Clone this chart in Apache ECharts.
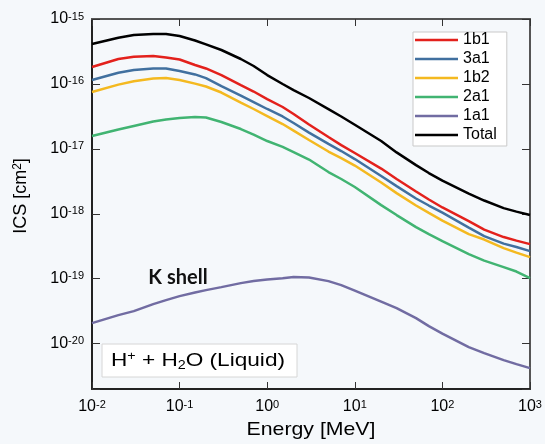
<!DOCTYPE html>
<html>
<head>
<meta charset="utf-8">
<script src="https://cdn.jsdelivr.net/npm/echarts@6/dist/echarts.min.js"></script>
<style>
  html, body { margin: 0; padding: 0; background: #f5f8fb; }
  #chart { width: 545px; height: 444px; }
</style>
</head>
<body>
<div id="chart"></div>
<script>
// Proton impact on liquid water: ionisation cross sections per molecular shell (cm^2)
const energyMeV = [0.01, 0.02, 0.03, 0.05, 0.07, 0.1, 0.15, 0.2, 0.3, 0.5, 0.7, 1, 1.5, 2, 3, 5, 7, 10,
                   20, 30, 50, 70, 100, 200, 300, 500, 700, 1000];

const ics1b1 = [1.82e-16, 2.42e-16, 2.62e-16, 2.69e-16, 2.55e-16, 2.38e-16, 1.96e-16, 1.73e-16, 1.37e-16,
                9.62e-17, 7.64e-17, 5.85e-17, 4.41e-17, 3.44e-17, 2.37e-17, 1.52e-17, 1.14e-17, 8.62e-18,
                4.97e-18, 3.43e-18, 2.20e-18, 1.66e-18, 1.25e-18, 7.72e-19, 5.71e-19, 4.38e-19, 3.86e-19, 3.41e-19];

const ics3a1 = [1.15e-16, 1.49e-16, 1.64e-16, 1.73e-16, 1.73e-16, 1.58e-16, 1.40e-16, 1.23e-16, 9.28e-17,
                6.63e-17, 5.26e-17, 4.11e-17, 3.15e-17, 2.50e-17, 1.78e-17, 1.19e-17, 9.25e-18, 6.96e-18,
                3.81e-18, 2.67e-18, 1.72e-18, 1.34e-18, 1.04e-18, 6.13e-19, 4.53e-19, 3.47e-19, 3.07e-19, 2.66e-19];

const ics1b2 = [7.50e-17, 9.75e-17, 1.10e-16, 1.21e-16, 1.23e-16, 1.15e-16, 1.01e-16, 9.12e-17, 7.37e-17,
                5.17e-17, 4.11e-17, 3.20e-17, 2.41e-17, 1.91e-17, 1.37e-17, 9.09e-18, 7.22e-18, 5.53e-18,
                3.03e-18, 2.08e-18, 1.34e-18, 1.03e-18, 7.86e-19, 4.87e-19, 4.01e-19, 2.96e-19, 2.52e-19, 2.15e-19];

const ics2a1 = [1.58e-17, 1.98e-17, 2.25e-17, 2.63e-17, 2.83e-17, 2.98e-17, 3.09e-17, 3.04e-17, 2.59e-17,
                2.02e-17, 1.66e-17, 1.32e-17, 1.07e-17, 8.93e-18, 6.84e-18, 4.39e-18, 3.43e-18, 2.58e-18,
                1.36e-18, 9.55e-19, 6.24e-19, 4.87e-19, 3.80e-19, 2.39e-19, 1.90e-19, 1.51e-19, 1.29e-19, 1.02e-19];

const ics1a1 = [2.07e-20, 2.75e-20, 3.17e-20, 4.06e-20, 4.68e-20, 5.39e-20, 6.11e-20, 6.67e-20, 7.42e-20,
                8.55e-20, 9.18e-20, 9.69e-20, 1.02e-19, 1.06e-19, 1.04e-19, 9.18e-20, 7.97e-20, 6.56e-20,
                4.44e-20, 3.52e-20, 2.47e-20, 1.86e-20, 1.43e-20, 8.83e-21, 7.14e-21, 5.57e-21, 4.83e-21, 4.20e-21];

const icsTotal = [4.12e-16, 5.15e-16, 5.67e-16, 5.87e-16, 5.87e-16, 5.47e-16, 4.67e-16, 4.07e-16, 3.33e-16,
                  2.42e-16, 1.89e-16, 1.37e-16, 9.97e-17, 8.05e-17, 6.07e-17, 4.10e-17, 3.15e-17, 2.35e-17,
                  1.32e-17, 8.81e-18, 5.62e-18, 4.24e-18, 3.25e-18, 2.05e-18, 1.60e-18, 1.22e-18, 1.08e-18, 9.55e-19];

const shellNames = ['1b1', '3a1', '1b2', '2a1', '1a1', 'Total'];
const shellColors = ['#e3211c', '#41709f', '#f4b920', '#41b472', '#716ca2', '#000000'];
const shellValues = [ics1b1, ics3a1, ics1b2, ics2a1, ics1a1, icsTotal];

const energyRange = [1e-2, 1e3];
const icsRange = [2e-21, 1e-15];

(function () {
  // The log scale loses precision near 1e-21, so the y axis runs in units of 1e-21 cm^2
  // and the labels add the exponent back.
  const Y_EXP = 21;
  const toAxis = v => v * Math.pow(10, Y_EXP);
  const yLo = toAxis(icsRange[0]), yHi = toAxis(icsRange[1]);

  const FONT = '"Liberation Sans", Arial, Helvetica, sans-serif';

  function powerLabel(shift) {
    return function (v) {
      const e = Math.log10(v);
      if (Math.abs(e - Math.round(e)) > 1e-6) return '';
      return '10{sup|' + (Math.round(e) - shift) + '}';
    };
  }

  const chart = echarts.init(document.getElementById('chart'), null, { renderer: 'canvas' });

  const supStyle = { fontSize: 11, lineHeight: 11, verticalAlign: 'top', fontFamily: FONT, color: '#000' };
  const xTick = { show: true, inside: true, length: 7, lineStyle: { color: '#333', width: 1 } };
  const yTick = { show: true, inside: true, length: 8, lineStyle: { color: '#333', width: 1 } };

  const annotations = [
    {
      type: 'text', x: 21, y: 196, rotation: Math.PI / 2,
      style: {
        text: 'ICS [cm{sup|2}]', fill: '#000', font: '18px ' + FONT,
        align: 'center', verticalAlign: 'middle',
        rich: { sup: { fontSize: 12, lineHeight: 12, verticalAlign: 'top', fontFamily: FONT, fill: '#000' } }
      }
    },
    {
      type: 'text', x: 311, y: 430, scaleX: 1.12,
      style: { text: 'Energy [MeV]', fill: '#000', font: '19px ' + FONT, align: 'center', verticalAlign: 'middle' }
    },
    {
      type: 'group', x: 102, y: 344,
      children: [
        { type: 'rect', shape: { x: 0, y: 0, width: 195, height: 33 }, style: { fill: '#ffffff', stroke: '#d6d6d6', lineWidth: 1 } },
        {
          type: 'text', x: 96, y: 17, scaleX: 1.19,
          style: {
            text: 'H{sup|+} + H{sub|2}O (Liquid)', fill: '#000', font: '19px ' + FONT,
            align: 'center', verticalAlign: 'middle', lineHeight: 21,
            rich: {
              sup: { fontSize: 12, lineHeight: 12, verticalAlign: 'top', fontFamily: FONT, fill: '#000' },
              sub: { fontSize: 12, lineHeight: 12, verticalAlign: 'bottom', fontFamily: FONT, fill: '#000' }
            }
          }
        }
      ]
    },
    {
      type: 'text', x: 178, y: 278,
      style: { text: 'K shell', fill: '#111', font: 'bold 20px Lato, "Open Sans", sans-serif', align: 'center', verticalAlign: 'middle' }
    }
  ];

  const option = {
    backgroundColor: '#f5f8fb',
    animation: false,
    grid: { left: 92, right: 15, top: 19, bottom: 55 },
    legend: {
      orient: 'vertical',
      left: 413,
      top: 32,
      data: shellNames.map(n => ({ name: n, icon: 'rect' })),
      itemWidth: 43,
      itemHeight: 2.5,
      itemGap: 3,
      padding: [0, 10, 3, 2],
      backgroundColor: '#ffffff',
      borderColor: '#c9c9c9',
      borderWidth: 1,
      textStyle: { fontFamily: FONT, fontSize: 16, color: '#000' }
    },
    xAxis: [{
      type: 'log', logBase: 10, min: energyRange[0], max: energyRange[1],
      position: 'bottom',
      axisLine: { show: true, lineStyle: { color: '#222', width: 2 } },
      axisTick: xTick,
      splitLine: { show: false },
      axisLabel: {
        formatter: powerLabel(0), margin: 10, color: '#000', fontFamily: FONT, fontSize: 16, lineHeight: 16,
        rich: { sup: supStyle }
      }
    }, {
      type: 'log', logBase: 10, min: energyRange[0], max: energyRange[1],
      position: 'top',
      axisLine: { show: true, lineStyle: { color: '#555', width: 2 } },
      axisTick: xTick, axisLabel: { show: false }, splitLine: { show: false }
    }],
    yAxis: [{
      type: 'log', logBase: 10, min: yLo, max: yHi,
      position: 'left',
      axisLine: { show: true, lineStyle: { color: '#222', width: 2 } },
      axisTick: yTick,
      splitLine: { show: false },
      axisLabel: {
        formatter: powerLabel(Y_EXP), margin: 8, color: '#000', fontFamily: FONT, fontSize: 16, lineHeight: 16,
        rich: { sup: supStyle }
      }
    }, {
      type: 'log', logBase: 10, min: yLo, max: yHi,
      position: 'right',
      axisLine: { show: true, lineStyle: { color: '#555', width: 2 } },
      axisTick: yTick, axisLabel: { show: false }, splitLine: { show: false }
    }],
    graphic: annotations,
    series: shellNames.map((name, i) => ({
      name: name,
      type: 'line',
      xAxisIndex: 0,
      yAxisIndex: 0,
      symbol: 'none',
      color: shellColors[i],
      lineStyle: { color: shellColors[i], width: 2.5 },
      data: energyMeV.map((e, j) => [e, toAxis(shellValues[i][j])]),
      z: 3
    }))
  };

  chart.setOption(option);
})();
</script>
</body>
</html>
